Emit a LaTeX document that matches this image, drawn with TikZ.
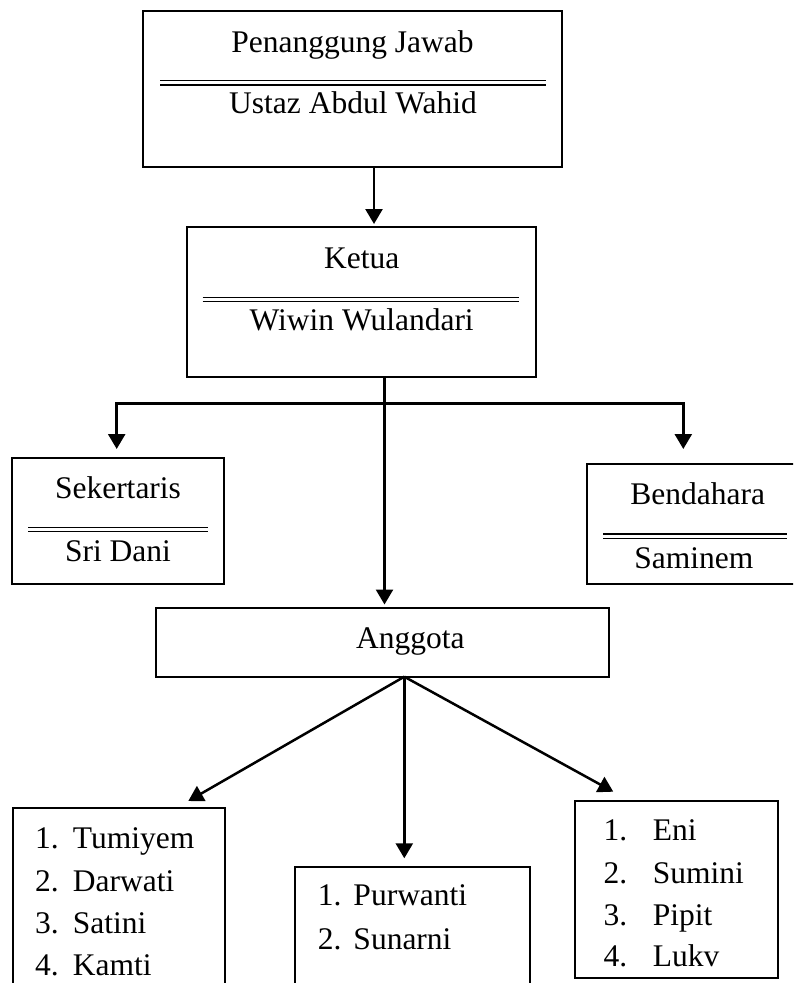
\documentclass[tikz,border=0pt]{standalone}
\usepackage{fontspec}
\setmainfont{Liberation Serif}
\usetikzlibrary{arrows.meta}
\begin{document}
\begin{tikzpicture}[x=1pt,y=-1pt,
  box/.style={draw,line width=2pt,inner sep=0pt,outer sep=0pt},
  txt/.style={inner sep=0pt,anchor=base,font=\fontsize{31.5}{38}\selectfont},
  item/.style={inner sep=0pt,anchor=base west,font=\fontsize{31.5}{38}\selectfont},
  dl/.style={line width=1.5pt},
  arr/.style={line width=2.5pt,-{Triangle[width=17pt,length=15pt]}}]
\useasboundingbox (0,0) rectangle (793,983);
\clip (0,0) rectangle (793,983);
% boxes
\node[box,minimum width=419pt,minimum height=156pt] (pj) at (352.5,89) {};
\node[box,minimum width=349pt,minimum height=150pt] (ketua) at (361.2,301.7) {};
\node[box,minimum width=212.3pt,minimum height=126.3pt] (sek) at (117.85,520.85) {};
\node[box,minimum width=212.7pt,minimum height=120pt] (ben) at (693.65,524) {};
\node[box,minimum width=453.3pt,minimum height=69pt] (ang) at (382.35,642.2) {};
\node[box,minimum width=211.7pt,minimum height=191.7pt] (la) at (119.15,904.15) {};
\node[box,minimum width=235pt,minimum height=133.3pt] (lb) at (412.5,933.35) {};
\node[box,minimum width=202.5pt,minimum height=177.3pt] (lc) at (676.25,889.65) {};
% texts
\node[txt] (pjt) at (352.5,52) {Penanggung Jawab};
\draw[dl] (160,80.7) -- (546,80.7);
\draw[dl] (160,85) -- (546,85);
\node[txt] (pjn) at (353,113) {Ustaz Abdul Wahid};
\node[txt] (kt) at (361.7,268) {Ketua};
\draw[dl] (202.7,297.3) -- (519,297.3);
\draw[dl] (202.7,301.3) -- (519,301.3);
\node[txt] (kn) at (361.7,330.7) {Wiwin Wulandari};
\node[txt] (st) at (118,498) {Sekertaris};
\draw[dl] (28.3,527.7) -- (207.7,527.7);
\draw[dl] (28.3,531.7) -- (207.7,531.7);
\node[txt] (sn) at (118,561.7) {Sri Dani};
\node[txt] (bt) at (697.7,504.3) {Bendahara};
\draw[dl] (603.3,534) -- (786.7,534);
\draw[dl] (603.3,538.3) -- (786.7,538.3);
\node[txt] (bn) at (693.8,568.3) {Saminem};
\node[txt] (at) at (410.3,648.3) {Anggota};
% lists
\node[item] (la1) at (35,848.3) {\makebox[37.7pt][l]{1.}Tumiyem};
\node[item] (la2) at (35,891.7) {\makebox[37.7pt][l]{2.}Darwati};
\node[item] (la3) at (35,933.3) {\makebox[37.7pt][l]{3.}Satini};
\node[item] (la4) at (35,975) {\makebox[37.7pt][l]{4.}Kamti};
\node[item] (lb1) at (317.7,905) {\makebox[35.6pt][l]{1.}Purwanti};
\node[item] (lb2) at (317.7,949.3) {\makebox[35.6pt][l]{2.}Sunarni};
\node[item] (lc1) at (603.3,840) {\makebox[49.4pt][l]{1.}Eni};
\node[item] (lc2) at (603.3,883.3) {\makebox[49.4pt][l]{2.}Sumini};
\node[item] (lc3) at (603.3,925) {\makebox[49.4pt][l]{3.}Pipit};
\node[item] (lc4) at (603.3,966.7) {\makebox[49.4pt][l]{4.}Lukv};
% connectors
\coordinate (t1) at (374,224);
\coordinate (t2) at (384.5,604.5);
\coordinate (j) at (384.5,403.3);
\coordinate (t3) at (116.7,449);
\coordinate (t4) at (683.3,449);
\coordinate (o) at (404.3,676.7);
\coordinate (t5) at (188.3,801);
\coordinate (t6) at (404.3,858.3);
\coordinate (t7) at (613.3,791.7);
\draw[arr] (pj.south -| t1) -- (t1);
\draw[arr] (ketua.south -| t2) -- (t2);
\draw[arr] (j) -| (t3);
\draw[arr] (j) -| (t4);
\draw[arr] (o) -- (t5);
\draw[arr] (o) -- (t6);
\draw[arr] (o) -- (t7);
\end{tikzpicture}
\end{document}
